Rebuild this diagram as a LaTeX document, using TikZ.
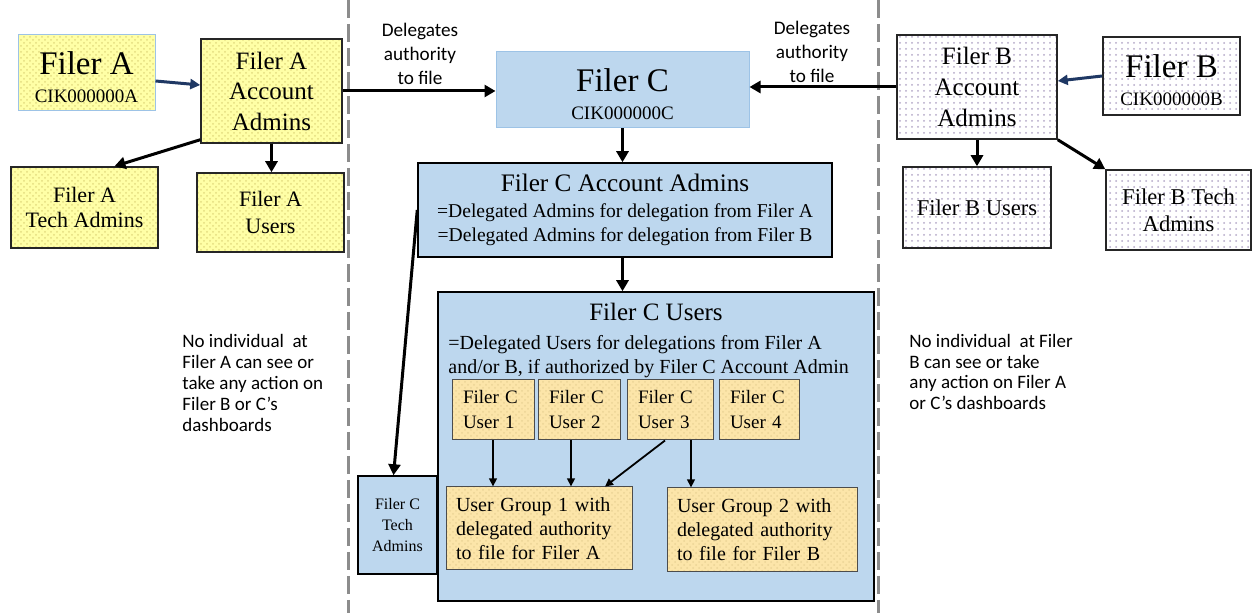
\documentclass[tikz,border=0pt]{standalone}
\usepackage{fontspec}
\setmainfont{Liberation Serif}
\newfontfamily\calib{Carlito}
\usetikzlibrary{arrows.meta,patterns,calc}
\definecolor{cfill}{HTML}{BDD7EE}
\definecolor{cline}{HTML}{9DC3E6}
\definecolor{navy}{HTML}{1F3864}
\definecolor{sepgray}{HTML}{8C8C8C}
\definecolor{yelA}{HTML}{FFFFA6}
\definecolor{yelP}{HTML}{E3DC80}
\definecolor{orgF}{HTML}{FCE5A9}
\definecolor{orgP}{HTML}{EBD496}
\definecolor{purP}{HTML}{B4A8C8}
\newcommand\myfs[2]{\fontsize{#1}{#2}\selectfont}
\begin{document}
\begin{tikzpicture}[x=0.5pt,y=-0.5pt,
  ybox/.style={draw=black!85, line width=0.75pt, preaction={fill=yelA}, preaction={pattern=crosshatch dots, pattern color=yelP}, inner sep=0pt, align=center},
  pbox/.style={draw=black!85, line width=0.75pt, preaction={fill=white}, preaction={pattern=dots, pattern color=purP}, inner sep=0pt, align=center},
  cbox/.style={draw=black, line width=0.75pt, fill=cfill, inner sep=0pt, align=center},
  obox/.style={draw=black!70, line width=0.5pt, preaction={fill=orgF}, preaction={pattern=crosshatch dots, pattern color=orgP}, inner ysep=0pt, inner xsep=5.5pt, align=left},
  thickarr/.style={line width=1.5pt, -{Triangle[length=5.5pt,width=6pt]}},
  bluearr/.style={draw=navy, line width=1.5pt, -{Triangle[length=5pt,width=5pt]}},
  thinarr/.style={line width=0.9pt, -{Triangle[length=4pt,width=3.8pt]}},
  sepline/.style={draw=sepgray, line width=1.5pt, dash pattern=on 9pt off 3pt},
  notetext/.style={font=\calib\myfs{9.5}{10.4}, align=left, inner sep=0pt},
  labtext/.style={font=\calib\myfs{9.6}{12}, align=center, inner sep=0pt}]
\useasboundingbox (0,0) rectangle (1252,613);
\fill[white] (0,0) rectangle (1252,613);

% separators
\draw[sepline] (348,0) -- (348,613);
\draw[sepline] (878,0) -- (878,613);

% Filer A side
\node[ybox, draw=cline, line width=0.5pt, minimum width=68.5pt, minimum height=38pt, font=\myfs{9.5}{14}] (fa) at (86.5,73) {\rule{0pt}{15.4pt}{\myfs{16.5}{14}Filer A}\\CIK000000A};
\node[ybox, minimum width=70.5pt, minimum height=52pt, font=\myfs{12.5}{15.25}] (faa) at (271.5,91) {Filer A\\Account\\Admins};
\node[ybox, minimum width=73.5pt, minimum height=40.5pt, font=\myfs{11}{12.5}] (ta) at (84.5,207.5) {Filer A\\Tech Admins};
\node[ybox, minimum width=73.5pt, minimum height=39.5pt, font=\myfs{11}{13.5}] (ua) at (270.5,212.5) {Filer A\\Users};

% Filer B side
\node[pbox, minimum width=80pt, minimum height=52pt, font=\myfs{12.5}{15.5}] (fbb) at (977,87) {Filer B\\Account\\Admins};
\node[pbox, minimum width=68.5pt, minimum height=39pt, font=\myfs{9.5}{14}] (fb) at (1171.5,76) {\rule{0pt}{16pt}{\myfs{16.5}{14}Filer B}\\CIK000000B};
\node[pbox, minimum width=74pt, minimum height=40.5pt, font=\myfs{11.3}{13.5}] (ub) at (977,207.5) {Filer B Users};
\node[pbox, minimum width=72.5pt, minimum height=40pt, font=\myfs{11.3}{13.5}] (tb) at (1178.5,210) {Filer B Tech\\Admins};

% Filer C
\node[cbox, draw=cline, line width=0.5pt, minimum width=126.5pt, minimum height=38pt, font=\myfs{9.5}{14}] (fc) at (622.5,90) {\rule{0pt}{15.4pt}{\myfs{16.5}{14}Filer C}\\CIK000000C};
\node[cbox, minimum width=207pt, minimum height=47pt, font=\myfs{9.8}{12}] (fcaa) at (625,210) {{\myfs{12.6}{12}Filer C Account Admins}\\[1pt]=Delegated Admins for delegation from Filer A\\=Delegated Admins for delegation from Filer B};
\node[cbox, minimum width=218pt, minimum height=154.5pt] (fcu) at (656,446.5) {};
\node[inner sep=0pt, anchor=north, font=\myfs{12.5}{15}] (fcut) at (656,303) {Filer C Users};
\node[inner sep=0pt, anchor=north west, align=left, font=\myfs{10}{12}] (fcul) at (448,335) {=Delegated Users for delegations from Filer A\\and/or B, if authorized by Filer C Account Admin};
\node[cbox, minimum width=39.5pt, minimum height=49pt, font=\myfs{8}{10.5}] (tc) at (397.5,525) {Filer C\\Tech\\Admins};

\node[obox, minimum height=30pt, text width=30pt, font=\myfs{9.5}{12.5}] (u1) at (493,410) {Filer C\\User 1};
\node[obox, minimum height=30pt, text width=30pt, font=\myfs{9.5}{12.5}] (u2) at (579,410) {Filer C\\User 2};
\node[obox, minimum height=30pt, text width=32pt, font=\myfs{9.5}{12.5}] (u3) at (670,410) {Filer C\\User 3};
\node[obox, minimum height=30pt, text width=29pt, font=\myfs{9.5}{12.5}] (u4) at (759,410) {Filer C\\User 4};

\node[obox, inner xsep=5pt, text width=83pt, minimum height=41.5pt, font=\myfs{10}{12}] (g1) at (539,528.5) {User Group 1 with\\delegated authority\\to file for Filer A};
\node[obox, inner xsep=5pt, text width=85pt, minimum height=42pt, font=\myfs{10}{12}] (g2) at (762,530) {User Group 2 with\\delegated authority\\to file for Filer B};

% labels and notes
\node[labtext] (d1) at (420,54) {Delegates\\authority\\to file};
\node[labtext] (d2) at (812,52) {Delegates\\authority\\to file};
\node[notetext, anchor=west] (n1) at (182,383) {No individual\ \ at\\Filer A can see or\\take any action on\\Filer B or C’s\\dashboards};
\node[notetext, anchor=west] (n2) at (909,372) {No individual\ \ at Filer\\B can see or take\\any action on Filer A\\or C’s dashboards};

% connectors
\draw[bluearr] ([yshift=-4pt]fa.east) -- ([yshift=3pt]faa.west);
\draw[bluearr] (fb.west) -- ([yshift=3pt]fbb.east);
\draw[thickarr] (faa.east) -- (faa.east -| fc.west);
\draw[thickarr] (fbb.west) -- (fbb.west -| fc.east);
\draw[thickarr] ([yshift=2pt]faa.south west) -- ([xshift=15pt]ta.north);
\draw[thickarr] (faa.south) -- (faa.south |- ua.north);
\draw[thickarr] (fbb.south) -- (fbb.south |- ub.north);
\draw[thickarr] (fbb.south east) -- (tb.north west);
\draw[thickarr] (fc.south) -- (fc.south |- fcaa.north);
\draw[thickarr] (fc.south |- fcaa.south) -- (fc.south |- fcu.north);
\draw[thickarr] (fcaa.west) -- ([xshift=-2pt]tc.north);
\draw[thinarr] (u1.south) -- (u1.south |- g1.north);
\draw[thinarr] ([xshift=-4pt]u2.south) -- ([xshift=-4pt]u2.south |- g1.north);
\draw[thinarr] ([xshift=-2.5pt]u3.south) -- ([xshift=33pt]g1.north);
\draw[thinarr] ([xshift=10.5pt]u3.south) -- ([xshift=10.5pt]u3.south |- g2.north);
\end{tikzpicture}
\end{document}
